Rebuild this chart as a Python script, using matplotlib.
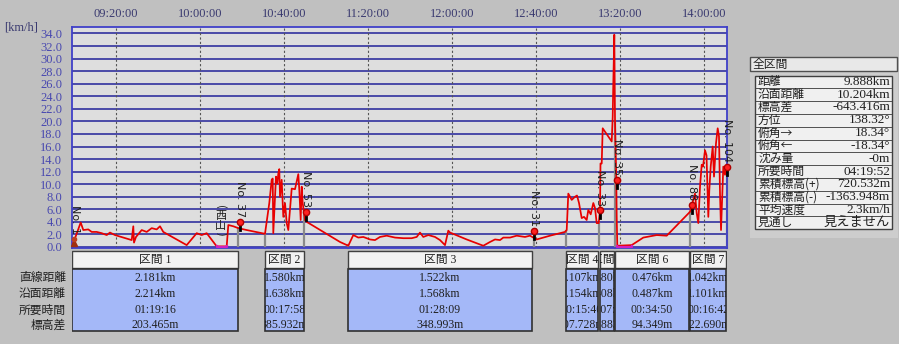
import matplotlib
matplotlib.use('Agg')
import matplotlib.pyplot as plt
from matplotlib.patches import Rectangle
from matplotlib.transforms import Bbox, TransformedBbox

# ---------------- data (time = minutes after 09:00, speed in km/h) ----------------
t = [-0.48, 3.19, 4.43, 6.81, 8.43, 10.81, 13.19, 15.57, 17.14, 19.52, 23.48, 27.48, 28.24, 28.57,
     29.52, 32.24, 34.62, 37.0, 39.38, 40.95, 42.52, 53.67, 58.43, 60.81, 63.19, 67.95, 72.71,
     73.48, 75.86, 78.24, 82.24, 90.95, 93.0, 94.14, 94.62, 94.9, 95.71, 96.19, 96.81, 97.29,
     97.76, 98.10, 98.90, 99.67, 100.48, 101.29, 102.05, 102.86, 103.67, 105.24, 106.81, 107.29,
     107.95, 108.43, 108.90, 110.0, 110.81, 126.67, 130.62, 133.0, 135.38, 137.76, 140.95, 143.33,
     145.71, 148.9, 152.86, 156.81, 160.81, 163.19, 164.76, 166.33, 168.71, 171.9, 174.29, 176.67,
     178.24, 179.05, 187.0, 194.9, 198.1, 200.48, 202.86, 204.43, 207.62, 210.81, 214.76, 217.14,
     218.71, 220.33, 226.67, 233.81, 234.62, 235.38, 237.0, 238.57, 239.52, 240.48, 241.76, 242.86,
     244.14, 244.90, 246.05, 247.29, 248.1, 248.9, 249.86, 250.48, 250.71, 251.29, 251.76, 254.43,
     256.05, 256.52, 256.81, 257.29, 257.62, 258.24, 258.43, 258.71, 265.57, 271.1, 277.48, 282.24,
     293.33, 294.9, 295.71, 296.52, 297.29, 298.1, 298.9, 299.52, 300.48, 301.19, 302.05, 302.52,
     303.19, 304.14, 304.76, 305.71, 306.52, 307.14, 307.62, 308.1, 308.57, 309.19, 310.0, 310.81]
v = [0.5, 3.9, 2.7, 2.8, 2.4, 2.4, 2.2, 1.9, 2.3, 1.9, 1.5, 1.1, 3.3, 0.7,
     1.6, 2.7, 2.4, 3.0, 2.8, 3.3, 2.4, 0.3, 2.2, 1.9, 2.2, 0.1, 0.1,
     3.5, 3.3, 3.0, 2.7, 2.1, 7.0, 10.7, 10.9, 2.2, 8.0, 11.2, 10.1, 11.7,
     12.4, 8.0, 10.7, 4.8, 7.0, 3.8, 2.7, 5.9, 9.3, 9.2, 11.6, 9.1,
     4.3, 9.6, 7.0, 4.3, 4.0, 0.8, 0.2, 1.9, 1.5, 1.6, 1.2, 1.1,
     1.6, 1.8, 1.5, 1.4, 1.4, 1.6, 2.3, 1.6, 1.9, 1.6, 1.1, 0.3,
     2.6, 2.3, 1.2, 0.2, 0.8, 1.2, 1.1, 1.5, 1.5, 1.8, 1.6, 1.8,
     1.5, 1.2, 1.8, 2.4, 2.7, 8.5, 7.5, 8.0, 8.2, 7.0, 4.6, 4.8,
     4.3, 5.9, 5.2, 7.0, 6.2, 3.8, 3.8, 5.9, 13.3, 13.3, 18.9, 17.6,
     16.8, 20.7, 26.1, 33.8, 20.2, 10.7, 4.8, 0.2, 0.3, 1.5, 1.9, 1.8,
     5.6, 7.5, 8.5, 5.4, 3.8, 9.6, 13.1, 12.8, 15.4, 14.6, 4.8, 9.0,
     12.8, 16.0, 11.2, 16.5, 18.9, 17.6, 8.5, 2.7, 7.0, 12.8, 11.5, 12.8]

stop_start = [67.95, 258.71]
stop_end = [72.71, 265.57]

marker_t = [79.05, 110.48, 219.05, 250.48, 258.43, 294.14, 311.1]
marker_v = [4.0, 5.6, 2.6, 5.9, 10.7, 6.7, 12.8]
marker_lbl = ["No. 37", "No. 53", "No. 31", "No. 33", "No. 35", "No. 88", "No. 104"]

boundary_t = [78.24, 90.95, 109.52, 130.48, 218.9, 234.29, 249.9, 257.5, 293.33, 310.9]
boundary_v = [3.0, 2.1, 5.0, 0.3, 1.5, 2.6, 3.8, 20.0, 5.6, 12.8]

xtick_pos = [20, 60, 100, 140, 180, 220, 260, 300]
xtick_lbl = ["09:20:00", "10:00:00", "10:40:00", "11:20:00", "12:00:00", "12:40:00", "13:20:00", "14:00:00"]
ytick_pos = list(range(0, 35, 2))

sec_name = ["区間 1", "区間 2", "区間 3", "区間 4", "区間 5", "区間 6", "区間 7"]
sec_start = [-0.95, 90.95, 130.48, 234.29, 250.48, 257.62, 293.33]
sec_end = [78.1, 109.52, 218.1, 249.52, 257.14, 292.86, 310.48]
sec_dist = ["2.181km", "1.580km", "1.522km", "1.107km", "0.380km", "0.476km", "1.042km"]
sec_surf = ["2.214km", "1.638km", "1.568km", "1.154km", "0.408km", "0.487km", "1.101km"]
sec_time = ["01:19:16", "00:17:58", "01:28:09", "00:15:40", "00:07:35", "00:34:50", "00:16:42"]
sec_elev = ["203.465m", "385.932m", "348.993m", "107.728m", "55.883m", "94.349m", "122.690m"]
row_lbl = ["直線距離", "沿面距離", "所要時間", "標高差"]

tot_lbl = ["距離", "沿面距離", "標高差", "方位", "俯角→", "俯角←", "沈み量", "所要時間",
           "累積標高(+)", "累積標高(-)", "平均速度", "見通し"]
tot_val = ["9.888km", "10.204km", "-643.416m", "138.32°", "18.34°", "-18.34°", "-0m", "04:19:52",
           "720.532m", "-1363.948m", "2.3km/h", "見えません"]

# ---------------- styling ----------------
SERIF = ['Liberation Serif', 'Noto Sans CJK JP', 'DejaVu Sans']
JP = ['Noto Sans CJK JP', 'DejaVu Sans']
FIGBG = '#c0c0c0'
W, H = 899, 344

fig = plt.figure(figsize=(W / 100, H / 100), dpi=100, facecolor=FIGBG)

def fx(px):
    return px / W

def fy(py):
    return 1 - py / H

XLIM = (-0.95, 310.95)
ax = fig.add_axes([fx(72), fy(248), fx(727) - fx(72), fy(27) - fy(248)])
ax.set_facecolor('#dedede')
ax.set_xlim(*XLIM)
ax.set_ylim(-0.16, 35.03)

for y in ytick_pos:
    ax.axhline(y, color='#23239a', lw=1.1, zorder=1)
for x in xtick_pos:
    ax.axvline(x, color='#555555', lw=0.8, ls=(0, (2, 2)), zorder=1)

ax.xaxis.tick_top()
ax.set_xticks(xtick_pos)
ax.set_xticklabels(xtick_lbl, family=SERIF, fontsize=9, color='#3a3a70')
ax.set_yticks(ytick_pos)
ax.set_yticklabels([f"{y:.1f}" for y in ytick_pos], family=SERIF, fontsize=9, color='#4848b0')
ax.tick_params(axis='both', length=0)
ax.tick_params(axis='x', pad=5)
ax.tick_params(axis='y', pad=7)
for s in ['left', 'top', 'right', 'bottom']:
    ax.spines[s].set_color('#4040c8')
    ax.spines[s].set_linewidth(1.3)

fig.text(fx(4), fy(28), "[km/h]", family=SERIF, fontsize=9, color='#3a3a70', va='center', ha='left')

# boundary lines
for bt, bv in zip(boundary_t, boundary_v):
    ax.plot([bt, bt], [-0.2, bv], color='#8a8a8a', lw=1.6, zorder=2, clip_on=False)

# speed line
ax.plot(t, v, color='#e80000', lw=1.25, zorder=4)
for s0, s1 in zip(stop_start, stop_end):
    ax.plot([s0, s0, s1, s1], [0.1, 0.05, 0.05, 0.1], color='#d020c0', lw=1.6, zorder=5)

# markers
for mt, mv, ml in zip(marker_t, marker_v, marker_lbl):
    ax.plot([mt, mt], [mv - 1.3, mv], color='black', lw=2.0, zorder=6, clip_on=False)
    ax.plot([mt], [mv], 'o', color='#ff2020', mec='#b00000', ms=4.5, zorder=7, clip_on=False)
    ax.text(mt, mv + 0.7, ml, rotation=-90, ha='center', va='bottom', fontsize=8,
            color='#202020', zorder=8, clip_on=False)

# start label / icon
ax.text(0.6, 2.0, "No. 1", rotation=-90, ha='center', va='bottom', fontsize=8, color='#202020', zorder=8)
ax.plot([0.0], [0.6], marker='^', color='#a03010', ms=5, zorder=8, clip_on=False)
ax.plot([0.0], [1.3], marker='o', color='#c04020', ms=3, zorder=8, clip_on=False)
# vertical "(西山)" label
ax.text(69.8, 6.4, "(", rotation=-90, ha='center', va='center', fontsize=8, family=JP, color='#202020', zorder=8)
ax.text(69.8, 5.0, "西", ha='center', va='center', fontsize=8, family=JP, color='#202020', zorder=8)
ax.text(69.8, 3.4, "山", ha='center', va='center', fontsize=8, family=JP, color='#202020', zorder=8)
ax.text(69.8, 2.1, ")", rotation=-90, ha='center', va='center', fontsize=8, family=JP, color='#202020', zorder=8)

# ---------------- section boxes ----------------
ax2 = fig.add_axes([fx(72), fy(333), fx(727) - fx(72), fy(250) - fy(333)])
ax2.set_xlim(*XLIM)
ax2.set_ylim(333, 250)
ax2.axis('off')
row_y = [278, 294, 310, 325]
for i in range(len(sec_name)):
    x0, x1 = sec_start[i], sec_end[i]
    ax2.add_patch(Rectangle((x0, 251), x1 - x0, 17, facecolor='#f2f2f2', edgecolor='#404040', lw=1.0))
    ax2.add_patch(Rectangle((x0, 269), x1 - x0, 62, facecolor='#a4b8f8', edgecolor='#303030', lw=1.2))
    hb = TransformedBbox(Bbox.from_extents(x0, 252, x1, 268), ax2.transData)
    th = ax2.text((x0 + x1) / 2, 259.5, sec_name[i], ha='center', va='center', fontsize=8.5,
                  family=SERIF, color='#202020')
    th.set_clip_box(hb)
    th.set_clip_on(True)
    bb = TransformedBbox(Bbox.from_extents(x0, 269, x1, 331), ax2.transData)
    for ry, val in zip(row_y, [sec_dist[i], sec_surf[i], sec_time[i], sec_elev[i]]):
        tx = ax2.text((x0 + x1) / 2, ry, val, ha='center', va='center', fontsize=8.5,
                      family=SERIF, color='#202020')
        tx.set_clip_box(bb)
        tx.set_clip_on(True)

for ry, lbl in zip(row_y, row_lbl):
    fig.text(fx(66), fy(ry), lbl, ha='right', va='center', fontsize=8.5, family=JP, color='#202020')

# ---------------- total panel ----------------
ax3 = fig.add_axes([0, 0, 1, 1], facecolor='none')
ax3.set_xlim(0, W)
ax3.set_ylim(H, 0)
ax3.axis('off')
ax3.add_patch(Rectangle((750, 71), 148, 167, facecolor='#cdcdcd', edgecolor='none'))
ax3.add_patch(Rectangle((750, 57), 147, 14, facecolor='#e8e8e8', edgecolor='#505050', lw=1.0))
ax3.text(753, 64, "全区間", ha='left', va='center', fontsize=8.5, family=JP, color='#202020')
ax3.add_patch(Rectangle((755, 75.5), 137, 153.6, facecolor='#f0f0f0', edgecolor='#404040', lw=1.0))
rh = 12.8
for i, (lb, vl) in enumerate(zip(tot_lbl, tot_val)):
    top = 75.5 + i * rh
    if i > 0:
        ax3.plot([756, 891], [top, top], color='#505050', lw=0.7)
    yc = top + rh / 2
    ax3.text(758, yc, lb, ha='left', va='center', fontsize=8.5, family=JP, color='#202020')
    ax3.text(890, yc, vl, ha='right', va='center', fontsize=9.5, family=SERIF, color='#202020')

fig.savefig('out.png', dpi=100, facecolor=FIGBG)
